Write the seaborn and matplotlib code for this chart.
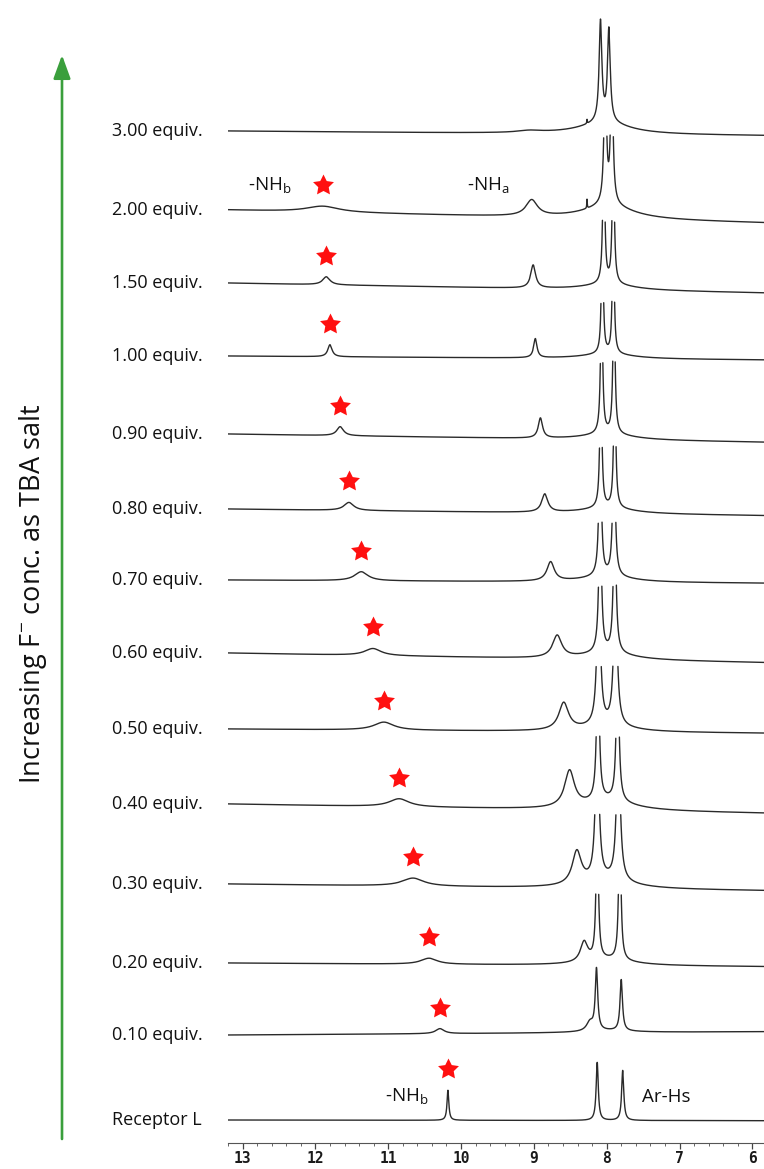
import numpy as np
import pandas as pd
import matplotlib
matplotlib.use("Agg")
import matplotlib.pyplot as plt
import matplotlib.transforms as mtransforms
from matplotlib.path import Path
from matplotlib.ticker import MultipleLocator
import seaborn as sns

# ---------------------------------------------------------------------------
# Titration series, bottom trace first
labels = ["Receptor L", "0.10 equiv.", "0.20 equiv.", "0.30 equiv.", "0.40 equiv.",
          "0.50 equiv.", "0.60 equiv.", "0.70 equiv.", "0.80 equiv.", "0.90 equiv.",
          "1.00 equiv.", "1.50 equiv.", "2.00 equiv.", "3.00 equiv."]

# -NHb signal: shift (ppm), height, line width (FWHM, ppm)
nhb_ppm = [10.18, 10.29, 10.44, 10.66, 10.85, 11.06, 11.21, 11.37, 11.54, 11.66,
           11.80, 11.85, 11.90, 12.00]
nhb_height = [30, 5, 6, 8, 8, 8, 7, 9, 8, 9, 12, 8, 6, 0]
nhb_width = [0.03, 0.14, 0.27, 0.36, 0.33, 0.33, 0.27, 0.22, 0.16, 0.11, 0.07, 0.12,
             0.55, 0.50]

# -NHa signal
nha_ppm = [8.45, 8.23, 8.31, 8.41, 8.51, 8.59, 8.68, 8.77, 8.85, 8.91, 8.98, 9.01,
           9.03, 9.06]
nha_height = [0, 9, 20, 33, 36, 27, 22, 19, 18, 20, 19, 23, 16, 2]
nha_width = [0.10, 0.11, 0.12, 0.15, 0.16, 0.16, 0.15, 0.12, 0.10, 0.07, 0.055, 0.08,
             0.19, 0.40]

# Aromatic doublet pair (Ar-Hs)
ar1_ppm = [8.13, 8.14, 8.13, 8.13, 8.12, 8.11, 8.09, 8.09, 8.08, 8.07, 8.06, 8.04,
           8.02, 8.085]
ar2_ppm = [7.78, 7.80, 7.82, 7.84, 7.85, 7.88, 7.89, 7.90, 7.89, 7.90, 7.91, 7.91,
           7.93, 7.97]
ar1_height = [58, 61, 150, 150, 150, 150, 150, 150, 150, 150, 150, 150, 150, 100]
ar2_height = [50, 51, 150, 150, 150, 150, 150, 150, 150, 150, 150, 150, 150, 92]
ar_width = [0.035, 0.04, 0.035, 0.058, 0.042, 0.055, 0.041, 0.038, 0.031, 0.032,
            0.027, 0.031, 0.037, 0.045]

# Broad base under the aromatic region
hump_height = [0, 2, 6, 8, 10, 6, 7, 6, 6, 6, 5, 6, 14, 12]
hump_width = 0.8

# Sharp minor signal near 8.27 ppm
spike_ppm = 8.27
spike_height = [0, 0, 0, 0, 0, 0, 0, 0, 0, 0, 0, 0, 9, 4]

# Baseline drop across the sweep (left to right)
baseline_drift = [0.7, -3.3, 3.7, 6.7, 9.3, 4.3, 9.7, 3.3, 6.7, 8.3, 4.0, 10.0, 13.0, 4.7]

# ---------------------------------------------------------------------------
# Stacking / display layout
trace_level = [23, 108, 180, 259, 339, 414, 490, 563, 634, 709, 787, 860, 933, 1012]
clip_height = [None, None, 70, 70, 68, 63, 68, 58, 64, 74, 55, 63, 75, None]

PPM_LEFT, PPM_RIGHT = 13.2, 5.84
ppm = np.arange(PPM_RIGHT, PPM_LEFT, 0.0008)[::-1]


def lorentz(x, x0, h, fwhm):
    g = fwhm / 2.0
    return h * g * g / ((x - x0) ** 2 + g * g)


def spectrum(i, x):
    y = lorentz(x, nhb_ppm[i], nhb_height[i], nhb_width[i])
    y += lorentz(x, nha_ppm[i], nha_height[i], nha_width[i])
    y += lorentz(x, ar1_ppm[i], ar1_height[i], ar_width[i])
    y += lorentz(x, ar2_ppm[i], ar2_height[i], ar_width[i])
    y += lorentz(x, 0.5 * (ar1_ppm[i] + ar2_ppm[i]), hump_height[i], hump_width)
    y += lorentz(x, spike_ppm, spike_height[i], 0.008)
    t = (PPM_LEFT - x) / (PPM_LEFT - PPM_RIGHT)
    return y - baseline_drift[i] * t


frames = []
seg_id = 0
for i in range(len(labels)):
    y = spectrum(i, ppm)
    if clip_height[i] is not None:
        keep = y <= clip_height[i]
    else:
        keep = np.ones_like(y, dtype=bool)
    # split the trace where clipped peaks leave the stack
    breaks = np.flatnonzero(np.diff(keep.astype(int)) != 0) + 1
    for a, b in zip(np.r_[0, breaks], np.r_[breaks, len(y)]):
        if keep[a]:
            frames.append(pd.DataFrame({"ppm": ppm[a:b], "y": y[a:b] + trace_level[i],
                                        "seg": seg_id}))
            seg_id += 1
df = pd.concat(frames, ignore_index=True)

# ---------------------------------------------------------------------------
sns.set_theme(style="white")
plt.rcParams["font.family"] = ["Open Sans", "DejaVu Sans"]

W, H = 764, 1169
fig = plt.figure(figsize=(W / 100, H / 100), dpi=100)
ax = fig.add_axes([228 / W, (H - 1143) / H, (764 - 228) / W, 1143 / H])

sns.lineplot(data=df, x="ppm", y="y", units="seg", estimator=None, color="#2a2a2a",
             linewidth=1.0, ax=ax, legend=False)

# stars above the -NHb signal
star_x, star_y = [], []
for i in range(len(labels)):
    if nhb_height[i] > 0:
        top = spectrum(i, np.array([nhb_ppm[i]]))[0] + trace_level[i]
        star_x.append(nhb_ppm[i])
        star_y.append(top + 21)
star_marker = Path.unit_regular_star(5, innerCircle=0.5)
sns.scatterplot(x=star_x, y=star_y, marker=star_marker, s=250, color="#ff1010",
                linewidth=0, ax=ax, zorder=5, legend=False)

ax.set_xlim(PPM_LEFT, PPM_RIGHT)
ax.set_ylim(0, 1143)
ax.set_xlabel("")
ax.set_ylabel("")
for s in ["top", "left", "right"]:
    ax.spines[s].set_visible(False)
ax.spines["bottom"].set_color("#555555")
ax.spines["bottom"].set_linewidth(0.8)
ax.set_yticks([])
ax.xaxis.set_major_locator(MultipleLocator(1))
ax.xaxis.set_minor_locator(MultipleLocator(0.2))
ax.tick_params(axis="x", which="major", bottom=True, length=4.5, width=0.9,
               color="#444444", pad=1.5)
ax.tick_params(axis="x", which="minor", bottom=True, length=2.2, width=0.7,
               color="#666666")
for lab in ax.get_xticklabels():
    lab.set_family("DejaVu Sans Mono")
    lab.set_fontweight("bold")
    lab.set_fontsize(10.5)
    lab.set_color("#1a1a1a")

# trace labels on the left
lab_tr = mtransforms.blended_transform_factory(fig.transFigure, ax.transData)
for i, name in enumerate(labels):
    ax.text(112 / W, trace_level[i], name, transform=lab_tr, ha="left", va="center",
            fontsize=13, color="#111111")

# peak assignments
ax.text(12.93, 957, r"-NH$_\mathregular{b}$", fontsize=13.5, va="center", ha="left",
        color="#111111")
ax.text(9.92, 957, r"-NH$_\mathregular{a}$", fontsize=13.5, va="center", ha="left",
        color="#111111")
ax.text(11.05, 46, r"-NH$_\mathregular{b}$", fontsize=13.5, va="center", ha="left",
        color="#111111")
ax.text(7.52, 46, "Ar-Hs", fontsize=13.5, va="center", ha="left", color="#111111")

# arrow and axis caption
ax.annotate("", xy=(62 / W, 1 - 55 / H), xytext=(62 / W, 1 - 1139 / H),
            xycoords="figure fraction", textcoords="figure fraction",
            arrowprops=dict(arrowstyle="-|>,head_length=0.55,head_width=0.2",
                            color="#3a9f3c", lw=1.9, mutation_scale=26,
                            shrinkA=0, shrinkB=0))
fig.text(33 / W, 1 - 594 / H, "Increasing F$^{\\mathregular{-}}$ conc. as TBA salt",
         rotation=90, ha="center", va="center", fontsize=19.5,
         family=["Open Sans", "DejaVu Sans"], color="#111111")

fig.savefig("out.png", dpi=100)
